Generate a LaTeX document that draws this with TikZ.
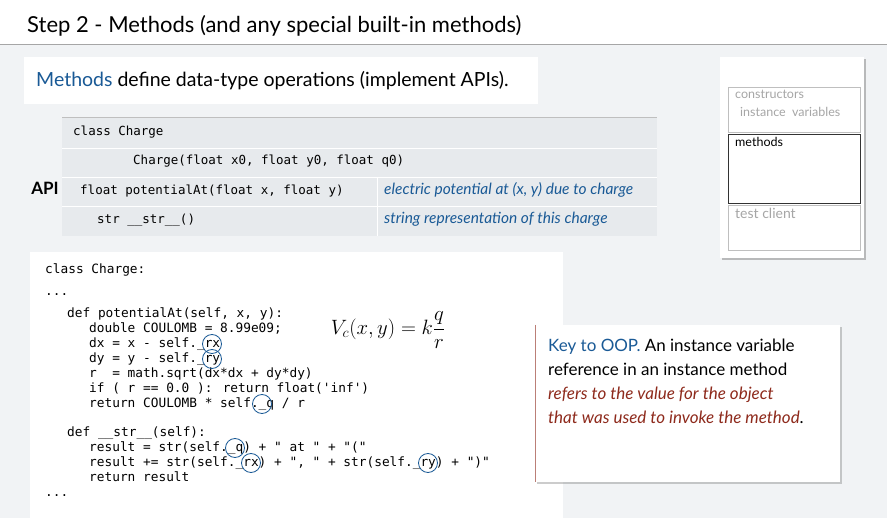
\documentclass[tikz,border=0pt]{standalone}
\usepackage{fontspec}
\setmainfont{Lato}
\newfontfamily\codefont{DejaVu Sans Mono}
\usetikzlibrary{positioning,shadows}
\definecolor{bookblue}{HTML}{1A5A96}
\definecolor{bookred}{HTML}{8E2A1C}
\definecolor{pagegray}{HTML}{F1F3F5}
\definecolor{rulegray}{HTML}{D8DCE0}
\tikzset{
  code/.style={anchor=base west,inner sep=0pt,font=\codefont\fontsize{12.8}{13}\selectfont},
  cell/.style={anchor=base west,inner sep=0pt,font=\codefont\fontsize{12.5}{13}\selectfont},
  note/.style={anchor=base west,inner sep=0pt,font=\fontsize{17}{18}\selectfont},
  hit/.style={draw=bookblue,thick,circle,minimum size=19pt,inner sep=0pt},
  part/.style={draw=gray!50,fill=white},
}
\begin{document}
\begin{tikzpicture}[x=1pt,y=-1pt]
\fill[pagegray] (0,0) rectangle (887,518);
\useasboundingbox (0,0) rectangle (887,518);

% Title
\fill[white] (0,0) rectangle (887,44);
\node[anchor=base west,inner sep=0pt,font=\fontsize{22}{24}\selectfont] (title) at (27,33) {Step 2 - Methods (and any special built-in methods)};
\draw[gray!70] (0,44) -- (887,44);

% Intro
\fill[white] (24,57) rectangle (538,104);
\node[anchor=base west,inner sep=0pt,font=\fontsize{19.5}{21}\selectfont] (intro) at (36,87) {\textcolor{bookblue}{Methods} define data-type operations (implement APIs).};

% API table
\fill[pagegray!60!rulegray] (62,117) rectangle (657,236);
\foreach \y in {148,177,206} \draw[white,thick] (62,\y) -- (657,\y);
\draw[white,thick] (377,177) -- (377,236);
\draw[gray!50] (62,117) -- (657,117);
\node[font=\bfseries\fontsize{17}{18}\selectfont] (api) at (45,188) {API};
\node[cell] (cls) at (73,136) {class Charge};
\node[cell] (ctor) at (133,165) {Charge(float x0, float y0, float q0)};
\node[cell] (pot) at (80,195) {float potentialAt(float x, float y)};
\node[cell] (str) at (97,224) {str \_\_str\_\_()};
\node[note,font=\itshape\fontsize{15.5}{16}\selectfont,text=bookblue] (potd) at (384,195) {electric potential at (x, y) due to charge};
\node[note,font=\itshape\fontsize{15.5}{16}\selectfont,text=bookblue] (strd) at (384,224) {string representation of this charge};

% Code panel
\fill[white] (30,252) rectangle (563,518);
\node[code] (l1) at (45,274) {class Charge:};
\node[code] (l2) at (45,296) {...};
\node[code] (l3) at (67,318) {def potentialAt(self, x, y):};
\node[code] (l4) at (89,333) {double COULOMB = 8.99e09;};
\node[code] (l5) at (89,348) {dx = x - self.\_rx};
\node[code] (l6) at (89,363) {dy = y - self.\_ry};
\node[code] (l7) at (89,378) {r\ \ = math.sqrt(dx*dx + dy*dy)};
\node[code] (l8) at (89,393) {if ( r == 0.0 ): return float('inf')};
\node[code] (l9) at (89,408) {return COULOMB * self.\_q / r};
\node[code] (l10) at (67,437) {def \_\_str\_\_(self):};
\node[code] (l11) at (89,452) {result = str(self.\_q) + " at " + "("};
\node[code] (l12) at (89,467) {result += str(self.\_rx) + ", " + str(self.\_ry) + ")"};
\node[code] (l13) at (89,482) {return result};
\node[code] (l14) at (45,497) {...};
\node[hit] (c1) at (212,344) {};
\node[hit] (c2) at (212,359) {};
\node[hit] (c3) at (262,404) {};
\node[hit] (c4) at (235,448) {};
\node[hit] (c5) at (251,463) {};
\node[hit] (c6) at (428,463) {};
\node[font=\fontsize{22}{24}\selectfont] (formula) at (388,330) {$V_c(x,y) = k\displaystyle\frac{q}{r}$};

% Key to OOP
\fill[white,drop shadow={shadow xshift=2pt,shadow yshift=-2pt,opacity=0.4}] (535,325) rectangle (840,482);
\draw[bookred!60] (535,325) -- (535,482);
\node[note] (k1) at (548,352) {\textcolor{bookblue}{Key to OOP.} An instance variable};
\node[note] (k2) at (548,376) {reference in an instance method};
\node[note,font=\itshape\fontsize{17}{18}\selectfont,text=bookred] (k3) at (548,400) {refers to the value for the object};
\node[note] (k4) at (548,424) {\textcolor{bookred}{\itshape that was used to invoke the method}.};

% Class layout
\fill[white,drop shadow={shadow xshift=2pt,shadow yshift=-2pt,opacity=0.5}] (720,57) rectangle (864,258);
\draw[part] (728,87) rectangle (860,132);
\draw[black!80,thick,fill=white] (728,134) rectangle (860,203);
\draw[part] (728,205) rectangle (860,250);
\node[note,font=\fontsize{12.5}{13}\selectfont,text=gray!70] (ctors) at (735,99) {constructors};
\node[note,font=\fontsize{12.5}{13}\selectfont,text=gray!70] (ivars) at (740,117) {instance\ \ variables};
\node[note,font=\fontsize{12.5}{13}\selectfont] (meth) at (735,147) {methods};
\node[note,font=\fontsize{14}{15}\selectfont,text=gray!70] (tc) at (735,219) {test client};
\end{tikzpicture}
\end{document}
